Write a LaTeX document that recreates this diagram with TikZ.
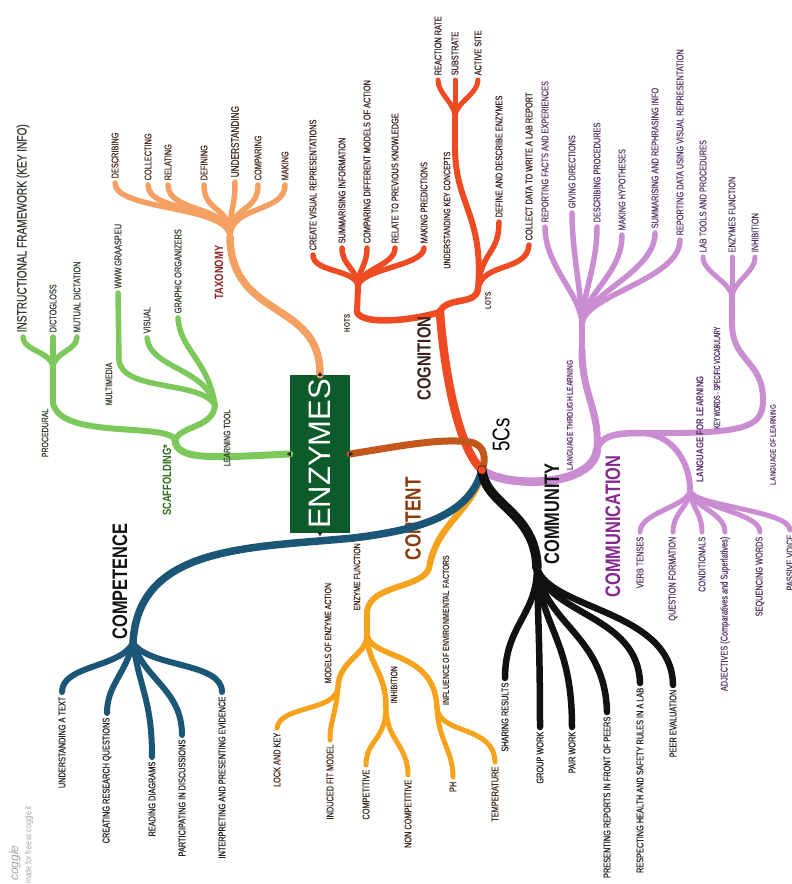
\documentclass[tikz,border=0pt]{standalone}
\usepackage{fontspec}
\setmainfont{Liberation Sans}
\newfontfamily\nar[FakeStretch=0.78]{Liberation Sans}
\newfontfamily\narl[FakeStretch=0.75,FakeBold=0.5]{Liberation Sans}
\newfontfamily\narn[FakeStretch=0.62,FakeBold=0.5]{Liberation Sans}
\definecolor{ctax}{HTML}{F4A062}
\definecolor{cgrn}{HTML}{7CC85A}
\definecolor{cred}{HTML}{EE4B23}
\definecolor{cpur}{HTML}{CB8DD2}
\definecolor{cblk}{HTML}{111111}
\definecolor{cblu}{HTML}{1C5676}
\definecolor{cyel}{HTML}{F7A21C}
\definecolor{cbrn}{HTML}{C2561B}
\definecolor{cbox}{HTML}{0D5A2B}
\definecolor{ttax}{HTML}{4A2A1A}
\definecolor{ttaxl}{HTML}{8E1F1F}
\definecolor{tgrn}{HTML}{34402C}
\definecolor{tgrnl}{HTML}{2E6B1A}
\definecolor{tred}{HTML}{3A201C}
\definecolor{tpur}{HTML}{563868}
\definecolor{tpurl}{HTML}{5A2A6A}
\definecolor{tcomm}{HTML}{86288F}
\definecolor{tdark}{HTML}{222222}
\definecolor{tcon}{HTML}{3F2A1A}
\definecolor{tconl}{HTML}{8A3A0C}
\newcommand\upl[4][]{\coordinate (#2) at (#3);\node[lu,#1] (#2t) at ([yshift=4pt]#2) {#4};}
\newcommand\dnl[4][]{\coordinate (#2) at (#3);\node[ld,#1] (#2t) at ([yshift=-4pt]#2) {#4};}
\begin{document}
\begin{tikzpicture}[x=1pt,y=-1pt,
  br/.style={draw=#1,line width=5pt,line cap=round},
  lab/.style={rotate=90,inner sep=0.5pt,font=\narl\fontsize{9.8}{10}\selectfont},
  lu/.style={lab,anchor=west},
  ld/.style={lab,anchor=east},
  jl/.style={lab,font=\narl\fontsize{9.3}{10}\selectfont},
  jlb/.style={lab,font=\nar\bfseries\fontsize{9}{10}\selectfont},
  big/.style={rotate=90,inner sep=0.5pt,font=\nar\bfseries\fontsize{21}{21}\selectfont},
  nub/.style={fill=black!85}]
\useasboundingbox (0,0) rectangle (792,884);
\clip (0,0) rectangle (792,884);
\fill[white] (0,0) rectangle (792,884);

\coordinate (hub) at (482,470);
\node[fill=cbox,rotate=90,minimum width=158pt,minimum height=60pt,inner sep=0pt,
      text=white,font=\fontsize{31}{31}\selectfont] (enz) at (320,454) {ENZYMES};

% ---------------- Taxonomy
\coordinate (tax) at (230,237);
\draw[br=ctax,line width=7.5pt] (enz.east) .. controls (321,300) and (231,320) .. (tax);
\begin{scope}[text=ttax]
\upl{des}{115,183}{DESCRIBING}
\upl{col}{148,185}{COLLECTING}
\upl{rel}{168,185}{RELATING}
\upl{dfn}{204,185}{DEFINING}
\upl[font=\narl\fontsize{11}{11}\selectfont]{und}{235,182}{UNDERSTANDING}
\upl{cmpa}{258,185}{COMPARING}
\upl{mak}{285,185}{MAKING}
\end{scope}
\foreach \n in {des,col,rel,dfn,und,cmpa,mak}
  \draw[br=ctax,line width=5.5pt] (tax) .. controls +(0,-32) and +(0,28) .. (\n);
\node[jlb,anchor=east,text=ttaxl,font=\nar\bfseries\fontsize{12}{12}\selectfont] (taxl) at (219,245) {TAXONOMY};

% ---------------- Scaffolding
\coordinate (scf) at (175,440);
\coordinate (lt) at (215,405);
\coordinate (proc) at (53,403);
\coordinate (procf) at (53,368);
\coordinate (mm) at (119,360);
\draw[br=cgrn,line width=7pt] (enz.north) .. controls (220,457) and (176,462) .. (scf);
\draw[br=cgrn,line width=6pt] (scf) .. controls (168,422) and (60,440) .. (proc);
\draw[br=cgrn,line width=6pt] (scf) .. controls (182,425) and (213,428) .. (lt);
\draw[br=cgrn,line width=6pt] (proc) -- (procf);
\begin{scope}[text=tgrn]
\upl[font=\narl\fontsize{13.5}{14}\selectfont]{ins}{23,337}{INSTRUCTIONAL FRAMEWORK (KEY INFO)}
\upl{dic}{53,337}{DICTOGLOSS}
\upl{mut}{77,337}{MUTUAL DICTATION}
\upl{www}{118,293}{WWW.GRAASP.EU}
\upl{vis}{147,338}{VISUAL}
\upl{gra}{178,318}{GRAPHIC ORGANIZERS}
\end{scope}
\foreach \n in {ins,dic,mut}
  \draw[br=cgrn,line width=5.5pt] (procf) .. controls +(0,-16) and +(0,14) .. (\n);
\draw[br=cgrn,line width=5.5pt] (lt) .. controls (200,380) and (122,392) .. (mm);
\draw[br=cgrn,line width=5.5pt] (mm) -- (www);
\draw[br=cgrn,line width=5.5pt] (lt) .. controls (205,368) and (150,368) .. (vis);
\draw[br=cgrn,line width=5.5pt] (lt) .. controls (208,360) and (180,350) .. (gra);
\node[jlb,anchor=east,text=tgrnl,font=\nar\bfseries\fontsize{12}{12}\selectfont] (scfl) at (167,444) {SCAFFOLDING*};
\node[jl,anchor=east,text=tgrn] (ltl) at (227,409) {LEARNING TOOL};
\node[jl,anchor=east,text=tgrn] (procl) at (45,408) {PROCEDURAL};
\node[jl,anchor=east,text=tgrn] (mml) at (109,362) {MULTIMEDIA};

% ---------------- Cognition
\coordinate (cog) at (440,312);
\coordinate (hots) at (357,312);
\coordinate (hotsf) at (358,287);
\coordinate (lots) at (478,289);
\coordinate (ukc) at (455,147);
\coordinate (ukcf) at (455,117);
\draw[br=cred,line width=8.5pt] (hub) .. controls (458,448) and (444,370) .. (cog);
\draw[br=cred,line width=6.5pt] (cog) .. controls (415,320) and (362,326) .. (hots);
\draw[br=cred,line width=6.5pt] (cog) .. controls (446,296) and (476,306) .. (lots);
\draw[br=cred,line width=6pt] (hots) -- (hotsf);
\draw[br=cred,line width=6pt] (lots) .. controls (484,215) and (455,205) .. (ukc);
\draw[br=cred,line width=5.5pt] (ukc) -- (ukcf);
\begin{scope}[text=tred]
\upl{cvr}{313,255}{CREATE VISUAL REPRESENTATIONS}
\upl{sui}{342,248}{SUMMARISING INFORMATION}
\upl{cdm}{367,248}{COMPARING DIFFERENT MODELS OF ACTION}
\upl{rpk}{395,248}{RELATE TO PREVIOUS KNOWLEDGE}
\upl{mpr}{424,248}{MAKING PREDICTIONS}
\upl{rr}{438,80}{REACTION RATE}
\upl{sub}{455,80}{SUBSTRATE}
\upl{act}{478,80}{ACTIVE SITE}
\upl{dde}{499,222}{DEFINE AND DESCRIBE ENZYMES}
\upl{cdw}{529,245}{COLLECT DATA TO WRITE A LAB REPORT}
\end{scope}
\foreach \n in {cvr,sui,cdm,rpk,mpr}
  \draw[br=cred,line width=5.5pt] (hotsf) .. controls +(0,-18) and +(0,18) .. (\n);
\foreach \n in {rr,sub,act}
  \draw[br=cred] (ukcf) .. controls +(0,-14) and +(0,14) .. (\n);
\draw[br=cred,line width=5.5pt] (lots) .. controls (481,250) and (499,255) .. (dde);
\draw[br=cred,line width=5.5pt] (lots) .. controls (482,262) and (527,272) .. (cdw);
\node[lab,anchor=east,text=tred,font=\nar\bfseries\fontsize{19}{19}\selectfont] (cogl) at (424,316) {COGNITION};
\node[jlb,anchor=east,text=tred,font=\nar\bfseries\fontsize{8}{8}\selectfont] (hotsl) at (347,314) {HOTS};
\node[jlb,anchor=east,text=tred,font=\nar\bfseries\fontsize{8}{8}\selectfont] (lotsl) at (488,292) {LOTS};
\node[jl,anchor=east,text=tred] (ukcl) at (447,151) {UNDERSTANDING KEY CONCEPTS};

% ---------------- link enzymes - 5Cs
\coordinate (bmid) at (470,442);
\draw[br=cbrn,line width=7pt] (enz.south) .. controls (400,446) and (440,438) .. (bmid) .. controls (486,445) and (486,460) .. (hub);

% ---------------- Communication
\coordinate (com) at (597,450);
\coordinate (ltj) at (582,350);
\coordinate (ltf) at (582,325);
\coordinate (csp) at (640,433);
\coordinate (lfl) at (690,490);
\coordinate (lol) at (763,400);
\coordinate (kw) at (732,323);
\coordinate (kwf) at (732,298);
\draw[br=cpur,line width=8.5pt] (hub) .. controls (505,488) and (592,488) .. (com);
\draw[br=cpur,line width=7pt] (com) .. controls (600,410) and (582,395) .. (ltj);
\draw[br=cpur,line width=6.5pt] (com) .. controls (600,436) and (615,433) .. (csp);
\draw[br=cpur,line width=6pt] (csp) .. controls (745,434) and (763,428) .. (lol);
\draw[br=cpur,line width=6pt] (csp) .. controls (672,433) and (690,462) .. (lfl);
\draw[br=cpur,line width=6pt] (lol) .. controls (763,360) and (732,362) .. (kw);
\draw[br=cpur,line width=5.5pt] (kw) -- (kwf);
\draw[br=cpur,line width=6.5pt] (ltj) -- (ltf);
\begin{scope}[text=tpur]
\upl{rfe}{545,227}{REPORTING FACTS AND EXPERIENCES}
\upl{gdi}{572,213}{GIVING DIRECTIONS}
\upl{dpr}{597,227}{DESCRIBING PROCEDURES}
\upl{mhy}{622,235}{MAKING HYPOTHESES}
\upl{srf}{655,233}{SUMMARISING AND REPHRASING INFO}
\upl{rdv}{680,240}{REPORTING DATA USING VISUAL REPRESENTATION}
\upl{ltp}{703,257}{LAB TOOLS AND PROCEDURES}
\upl{enf}{732,257}{ENZYMES FUNCTION}
\upl{inh}{755,257}{INHIBITION}
\dnl{vt}{640,532}{VERB TENSES}
\dnl{qf}{673,532}{QUESTION FORMATION}
\dnl{cnd}{702,532}{CONDITIONALS}
\dnl{adj}{725,532}{ADJECTIVES (Comparatives and Superlatives)}
\dnl{seq}{760,532}{SEQUENCING WORDS}
\dnl{pas}{790,530}{PASSIVE VOICE}
\end{scope}
\foreach \n in {rfe,gdi,dpr,mhy,srf,rdv}
  \draw[br=cpur,line width=5.5pt] (ltf) .. controls +(0,-30) and +(0,40) .. (\n);
\foreach \n in {ltp,enf,inh}
  \draw[br=cpur] (kwf) .. controls +(0,-16) and +(0,16) .. (\n);
\foreach \n in {vt,qf,cnd,adj,seq,pas}
  \draw[br=cpur] (lfl) .. controls +(0,16) and +(0,-20) .. (\n);
\node[big,anchor=east,text=tcomm] (coml) at (613,455) {COMMUNICATION};
\node[jlb,anchor=east,text=tpurl,font=\nar\bfseries\fontsize{8.5}{9}\selectfont] (ltll) at (570,360) {LANGUAGE THROUGH LEARNING};
\node[jlb,anchor=west,text=tpurl,font=\nar\bfseries\fontsize{10}{10}\selectfont] (lfll) at (700,483) {LANGUAGE FOR LEARNING};
\node[jl,anchor=east,text=tpur,font=\narn\fontsize{8.8}{9}\selectfont] (kwl) at (717,326) {KEY WORDS - SPECIFIC VOCABULARY};
\node[jlb,anchor=east,text=tpurl,font=\nar\bfseries\fontsize{8}{8}\selectfont] (loll) at (773,404) {LANGUAGE OF LEARNING};

% ---------------- Content (under competence)
\coordinate (cnt) at (430,563);
\coordinate (ef) at (367,613);
\coordinate (efk) at (367,635);
\coordinate (mea) at (338,687);
\coordinate (inb) at (386,707);
\coordinate (ienv) at (437,708);
\draw[br=cyel,line width=6.5pt] (hub) .. controls (476,508) and (440,520) .. (cnt);
\draw[br=cyel,line width=6pt] (cnt) .. controls (430,590) and (368,582) .. (ef);
\draw[br=cyel,line width=6pt] (ef) -- (efk);
\draw[br=cyel,line width=5.5pt] (efk) .. controls (367,655) and (339,660) .. (mea);
\draw[br=cyel,line width=5.5pt] (efk) .. controls (368,665) and (386,672) .. (inb);
\draw[br=cyel,line width=5.5pt] (efk) .. controls (372,660) and (435,650) .. (ienv);
\begin{scope}[text=tcon]
\dnl{lak}{277,728}{LOCK AND KEY}
\dnl{ifm}{330,740}{INDUCED FIT MODEL}
\dnl{cpe}{366,765}{COMPETITIVE}
\dnl{ncp}{408,775}{NON COMPETITIVE}
\dnl{ph}{453,777}{PH}
\dnl{tmp}{495,762}{TEMPERATURE}
\end{scope}
\draw[br=cyel] (mea) .. controls (336,712) and (280,705) .. (lak);
\draw[br=cyel] (mea) .. controls (336,715) and (330,720) .. (ifm);
\draw[br=cyel] (inb) .. controls (386,740) and (366,740) .. (cpe);
\draw[br=cyel] (inb) .. controls (386,740) and (408,745) .. (ncp);
\draw[br=cyel] (ienv) .. controls (438,740) and (453,750) .. (ph);
\draw[br=cyel] (ienv) .. controls (440,735) and (494,725) .. (tmp);
\node[big,anchor=west,text=tconl,font=\nar\bfseries\fontsize{22}{22}\selectfont] (cntl) at (413,561) {CONTENT};
\node[jl,anchor=west,text=tcon] (efl) at (357,611) {ENZYME FUNCTION};
\node[jl,anchor=west,text=tcon] (meal) at (328,684) {MODELS OF ENZYME ACTION};
\node[jl,anchor=west,text=tcon] (inbl) at (394,704) {INHIBITION};
\node[jlb,anchor=west,text=tcon] (ienvl) at (446,706) {INFLUENCE OF ENVIRONMENTAL FACTORS};

% ---------------- Competence
\coordinate (bmid2) at (353,538);
\coordinate (cpt) at (133,643);
\draw[br=cblu,line width=7.5pt] (hub) .. controls (470,515) and (420,530) .. (bmid2) .. controls (250,548) and (138,545) .. (cpt);
\begin{scope}[text=tdark]
\dnl{ut}{62,692}{UNDERSTANDING A TEXT}
\dnl{crq}{107,713}{CREATING RESEARCH QUESTIONS}
\dnl{rdg}{152,757}{READING DIAGRAMS}
\dnl{pid}{182,735}{PARTICIPATING IN DISCUSSIONS}
\dnl{ipe}{222,692}{INTERPRETING AND PRESENTING EVIDENCE}
\end{scope}
\draw[br=cblu,line width=6pt] (cpt) .. controls (120,668) and (62,665) .. (ut);
\draw[br=cblu,line width=6pt] (cpt) .. controls (125,675) and (107,685) .. (crq);
\draw[br=cblu,line width=6pt] (cpt) .. controls (140,690) and (152,700) .. (rdg);
\draw[br=cblu,line width=6pt] (cpt) .. controls (145,680) and (182,690) .. (pid);
\draw[br=cblu,line width=6pt] (cpt) .. controls (150,668) and (222,662) .. (ipe);
\node[big,anchor=west,text=cblk] (cptl) at (120,640) {COMPETENCE};

% ---------------- Community
\coordinate (cmy) at (537,568);
\draw[br=cblk,line width=9.5pt] (hub) .. controls (485,505) and (536,512) .. (cmy);
\begin{scope}[text=tdark]
\dnl{shr}{505,678}{SHARING RESULTS}
\dnl{grp}{540,727}{GROUP WORK}
\dnl{pwk}{572,727}{PAIR WORK}
\dnl{pres}{607,712}{PRESENTING REPORTS IN FRONT OF PEERS}
\dnl{resp}{640,683}{RESPECTING HEALTH AND SAFETY RULES IN A LAB}
\dnl{peer}{673,685}{PEER EVALUATION}
\end{scope}
\draw[br=cblk,line width=6.5pt] (cmy) .. controls (537,615) and (505,625) .. (shr);
\draw[br=cblk,line width=6.5pt] (cmy) .. controls (538,620) and (540,650) .. (grp);
\draw[br=cblk,line width=6.5pt] (cmy) .. controls (542,630) and (572,640) .. (pwk);
\draw[br=cblk,line width=6.5pt] (cmy) .. controls (545,625) and (605,635) .. (pres);
\draw[br=cblk,line width=6.5pt] (cmy) .. controls (548,615) and (638,615) .. (resp);
\draw[br=cblk,line width=6.5pt] (cmy) .. controls (550,610) and (672,610) .. (peer);
\node[big,anchor=west,text=cblk] (cmyl) at (552,565) {COMMUNITY};

% ---------------- hub label and box nubs
\fill[cred] (hub) circle (4pt);
\node[rotate=90,inner sep=0pt,font=\nar\fontsize{24}{24}\selectfont] (fivec) at (501,435) {5Cs};
\fill[nub] (enz.east) ++(-2.5,1) -- ++(2.5,-4) -- ++(2.5,4) -- cycle;
\fill[nub] (enz.west) ++(-2.5,-1) -- ++(2.5,4) -- ++(2.5,-4) -- cycle;
\fill[nub] (enz.north) ++(1,-2.5) -- ++(-4,2.5) -- ++(4,2.5) -- cycle;
\fill[nub] (enz.south) ++(-1,-2.5) -- ++(4,2.5) -- ++(-4,2.5) -- cycle;

% ---------------- watermark
\node[rotate=90,anchor=west,inner sep=0pt,text=black!35,font=\itshape\fontsize{12}{12}\selectfont] (cgl) at (15,881) {coggle};
\node[rotate=90,anchor=west,inner sep=0pt,text=black!35,font=\nar\fontsize{9}{9}\selectfont] (mfl) at (29,884) {made for free at coggle.it};
\end{tikzpicture}
\end{document}
